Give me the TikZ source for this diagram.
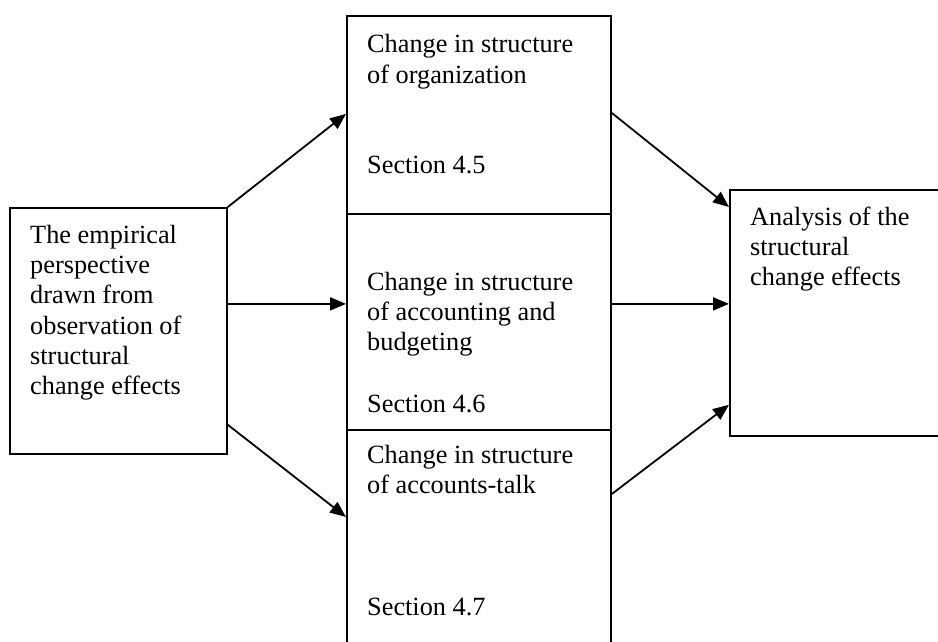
\documentclass[tikz,border=0pt]{standalone}
\usepackage{fontspec}
\setmainfont{Liberation Serif}
\usetikzlibrary{arrows.meta}
\begin{document}
\begin{tikzpicture}[x=1pt,y=-1pt,
  box/.style={draw, line width=1.8pt, rectangle, inner sep=0pt, anchor=north west},
  txt/.style={anchor=base west, inner sep=0pt, font=\fontsize{26.3pt}{30.4pt}\selectfont},
  arr/.style={line width=1.8pt, -{Triangle[length=16pt,width=13pt]}}]
\useasboundingbox (0,0) rectangle (938,642);
\clip (0,0) rectangle (938,642);
\fill[white] (0,0) rectangle (938,642);

% boxes
\node[box, minimum width=217pt, minimum height=246pt] (src) at (9,207) {};
\node[box, minimum width=264pt, minimum height=198pt] (topbox) at (346,15) {};
\node[box, minimum width=264pt, minimum height=216pt] (midbox) at (346,213) {};
\node[box, minimum width=264pt, minimum height=240pt] (botbox) at (346,429) {};
\node[box, minimum width=240pt, minimum height=246pt] (goal) at (729,189) {};

% texts
\node[txt] (srctxt) at (30,243) {\begin{tabular}[t]{@{}l@{}}The empirical\\perspective\\drawn from\\observation of\\structural\\change effects\end{tabular}};
\node[txt] (toptxt) at (367,53) {\begin{tabular}[t]{@{}l@{}}Change in structure\\of organization\end{tabular}};
\node[txt] (topsec) at (367,173) {Section 4.5};
\node[txt] (midtxt) at (367,290) {\begin{tabular}[t]{@{}l@{}}Change in structure\\of accounting and\\budgeting\end{tabular}};
\node[txt] (midsec) at (367,412) {Section 4.6};
\node[txt] (bottxt) at (367,463) {\begin{tabular}[t]{@{}l@{}}Change in structure\\of accounts-talk\end{tabular}};
\node[txt] (botsec) at (367,615) {Section 4.7};
\node[txt] (goaltxt) at (750,225) {\begin{tabular}[t]{@{}l@{}}Analysis of the\\structural\\change effects\end{tabular}};

% connectors
\draw[arr] (src.north east) -- ([yshift=1pt]topbox.west);
\draw[arr] ([yshift=27pt]src.east) -- ([yshift=18pt]midbox.west);
\draw[arr] ([yshift=30pt]src.south east) -- ([yshift=-88pt]botbox.north west);
\draw[arr] ([yshift=2pt]topbox.east) -- ([yshift=-18pt]goal.north west);
\draw[arr] ([yshift=18pt]midbox.east) -- ([yshift=9pt]goal.west);
\draw[arr] ([yshift=-65pt]botbox.north east) -- ([yshift=32pt]goal.south west);
\end{tikzpicture}
\end{document}
